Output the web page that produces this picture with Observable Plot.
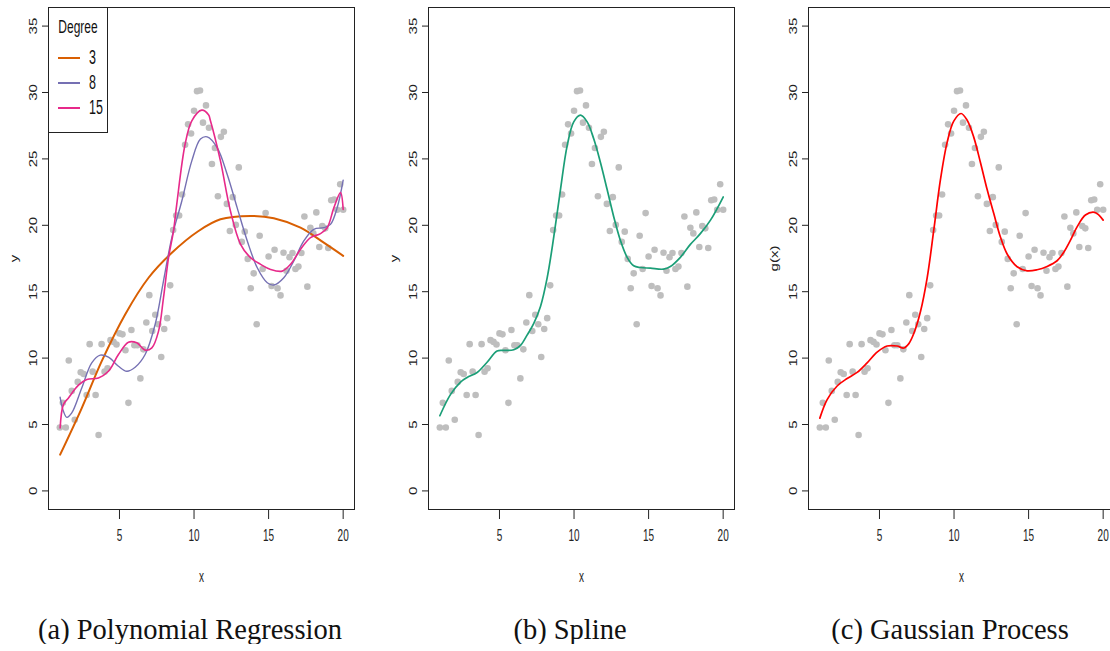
<!DOCTYPE html>
<html>
<head>
<meta charset="utf-8">
<script src="https://cdn.jsdelivr.net/npm/d3@7"></script>
<script src="https://cdn.jsdelivr.net/npm/@observablehq/plot@0.6"></script>
<style>
  html, body { margin: 0; padding: 0; background: white; overflow: hidden; }
  #row { display: flex; width: 1140px; }
  .fig { position: relative; width: 380px; flex: none; }
  .cap { font-family: "Liberation Serif", "Times New Roman", serif; font-size: 28.5px; text-align: center; line-height: 28px; margin-top: 16px; color: #111; }
  .legend { position: absolute; left: 48px; top: 7px; width: 60px; height: 126px; border: 1px solid #222; background: white; box-sizing: border-box; font-family: "Liberation Sans", Arial, sans-serif; color: #111; }
  .legend .title { position: absolute; left: 0; width: 100%; top: 12px; text-align: center; font-size: 12px; transform: scaleY(1.6); }
  .legend .item { position: absolute; left: 0; width: 100%; height: 14px; }
  .legend .sw { position: absolute; left: 9px; width: 22px; top: 6px; height: 2px; }
  .legend .lab { position: absolute; left: 40px; top: 0; font-size: 12.5px; line-height: 14px; transform: scaleY(1.55); transform-origin: 0 50%; }
</style>
</head>
<body>
<div id="row"></div>
<script>
// ---- data ----
const xs = [1,1.2,1.4,1.6,1.8,2,2.2,2.4,2.6,2.8,3,3.2,3.4,3.6,3.8,4,4.2,4.4,4.6,4.8,
  5,5.2,5.4,5.6,5.8,6,6.2,6.4,6.6,6.8,7,7.2,7.4,7.6,7.8,8,8.2,8.4,8.6,8.8,
  9,9.2,9.4,9.6,9.8,10,10.2,10.4,10.6,10.8,11,11.2,11.4,11.6,11.8,12,12.2,12.4,12.6,12.8,
  13,13.2,13.4,13.6,13.8,14,14.2,14.4,14.6,14.8,15,15.2,15.4,15.6,15.8,16,16.2,16.4,16.6,16.8,
  17,17.2,17.4,17.6,17.8,18,18.2,18.4,18.6,18.8,19,19.2,19.4,19.6,19.8,20];
const ys = [4.77,6.63,4.77,9.82,7.53,5.36,8.21,8.93,8.80,7.22,
  11.05,8.98,7.22,4.21,11.05,8.98,9.23,11.35,11.22,11.02,
  11.86,11.79,10.59,6.63,12.12,10.97,10.97,8.47,10.66,12.68,
  14.74,12.04,13.27,12.55,10.08,12.19,13.01,15.48,19.64,20.74,
  20.74,22.32,26.07,27.6,26.91,28.62,30.1,30.15,27.73,29.03,
  27.35,24.62,25.82,22.19,26.66,27.04,21.61,19.57,22.12,20.03,
  24.36,18.75,19.52,17.47,15.26,16.38,12.55,19.21,16.71,20.92,
  17.65,15.43,18.16,15.26,14.72,17.93,16.58,17.6,17.91,16.71,
  16.89,17.91,20.66,15.38,19.82,19.39,20.97,18.37,19.95,19.77,
  18.29,21.89,21.94,21.17,23.09,21.17];

// degree 3 polynomial curve
const deg3X = [1.02,2.47,3.81,5.38,6.95,8.51,10.3,11.77,13.79,15.35,17.14,18.7,20.0];
const deg3Y = [2.73,6.24,9.77,13.29,16.05,17.93,19.57,20.45,20.7,20.53,19.82,18.69,17.7];
// degree 8
const deg8X = [1.02,1.24,1.47,1.8,2.47,3.14,3.71,4.26,4.93,5.49,6.05,6.72,7.39,7.95,8.51,9.18,9.85,10.43,10.88,11.55,12.22,12.89,13.57,14.24,14.91,15.35,16.02,16.69,17.36,18.03,18.7,19.15,19.6,20.0];
const deg8Y = [7.05,6.0,5.54,5.87,7.75,9.64,10.22,10.07,9.39,9.01,9.31,10.27,12.53,15.8,19.07,21.83,24.85,26.49,26.66,25.85,23.85,21.33,18.82,16.8,15.67,15.5,16.05,17.31,18.82,19.7,19.82,20.07,21.33,23.4];
// degree 15
const deg15X = [1.02,1.24,1.58,2.25,2.81,3.59,4.26,4.93,5.6,6.16,6.72,7.17,7.62,7.95,8.29,8.62,8.84,9.4,9.85,10.52,10.97,11.1,11.77,12.44,13.12,13.79,14.46,15.13,15.91,16.47,17.14,17.81,18.48,18.93,19.38,19.82,20.0];
const deg15Y = [4.74,6.5,7.0,7.96,8.38,8.51,9.01,10.27,11.2,11.15,10.6,10.77,12.03,14.54,17.56,19.57,21.58,26.1,27.87,28.67,28.32,27.87,24.85,21.08,18.57,17.56,17.06,16.68,16.55,17.06,18.19,19.07,19.37,19.82,21.33,22.46,21.2];
// spline
const splX = [1.0,1.72,2.39,2.83,3.5,4.17,4.84,5.29,5.96,6.41,6.85,7.3,7.75,8.2,8.64,9.09,9.54,9.98,10.43,10.88,11.32,11.77,12.22,12.66,13.11,13.56,14.0,14.45,15.12,16.0,16.46,17.13,17.8,18.47,19.15,20.0];
const splY = [5.66,7.27,8.2,8.54,8.92,9.69,10.53,10.58,10.63,10.96,11.73,12.62,13.89,16.06,19.12,22.69,26.0,27.79,28.3,27.79,26.51,24.73,22.69,20.65,18.86,17.59,16.95,16.82,16.77,16.7,16.9,17.59,18.56,19.37,20.39,22.13];
// gaussian process
const gpX = [1.0,1.49,2.16,2.83,3.5,4.17,4.84,5.51,6.18,6.63,6.97,7.3,7.75,8.2,8.64,9.09,9.54,9.98,10.47,10.88,11.32,11.77,12.22,12.66,13.11,13.56,14.23,14.9,15.57,16.24,16.91,17.36,17.8,18.25,18.81,19.41,19.7,20.0];
const gpY = [5.48,6.88,7.9,8.46,8.92,9.64,10.45,10.91,10.91,10.76,11.09,11.85,13.51,16.06,19.63,23.45,26.26,27.84,28.42,27.91,26.64,24.73,22.69,20.9,19.12,17.84,16.88,16.57,16.65,16.9,17.33,17.97,18.86,19.88,20.78,20.98,20.78,20.39];

const xTicks = [5, 10, 15, 20];
const yTicks = [0, 5, 10, 15, 20, 25, 30, 35];
const degrees = ["3", "8", "15"];
const captions = ["(a) Polynomial Regression", "(b) Spline", "(c) Gaussian Process"];
const yLabels = ["y", "y", "g(x)"];

const pts = xs.map((x, i) => ({x, y: ys[i]}));
const zip = (a, b) => a.map((x, i) => ({x, y: b[i]}));

function stretch(svg) {
  d3.select(svg).selectAll('g[aria-label$="label"] text').each(function() {
    const t = this.getAttribute("transform") || "";
    if (t.includes("rotate")) this.setAttribute("transform", t + " scale(1.5,1)");
    else this.setAttribute("transform", t + " scale(1,1.6)");
  });
}

function panel(curves, ylabel) {
  const svg = Plot.plot({
    width: 380, height: 600,
    marginLeft: 48, marginRight: 26, marginTop: 7, marginBottom: 91,
    x: {domain: [0.24, 20.76]},
    y: {domain: [-1.4, 36.4]},
    style: {fontFamily: "'Liberation Sans', Arial, sans-serif", fontSize: "10px", color: "#222", background: "white", overflow: "visible"},
    marks: [
      Plot.axisX({ticks: xTicks, tickSize: 10, tickPadding: 10, label: "x", labelAnchor: "center", labelArrow: "none", labelOffset: 72}),
      Plot.axisY({ticks: yTicks, tickSize: 6, tickPadding: 6, tickRotate: -90, label: ylabel, labelAnchor: "center", labelArrow: "none", labelOffset: 38}),
      Plot.dot(pts, {x: "x", y: "y", r: 3.3, fill: "#BEBEBE", stroke: "none"}),
      ...curves.map(c => Plot.line(c.data, {x: "x", y: "y", stroke: c.color, strokeWidth: c.w, curve: "catmull-rom"})),
      Plot.frame({stroke: "#222", strokeWidth: 1})
    ]
  });
  stretch(svg);
  return svg;
}

const row = document.getElementById("row");
const colorsA = ["#D95F02", "#7570B3", "#E7298A"];
const panels = [
  [{data: zip(deg3X, deg3Y), color: colorsA[0], w: 2},
   {data: zip(deg8X, deg8Y), color: colorsA[1], w: 1.4},
   {data: zip(deg15X, deg15Y), color: colorsA[2], w: 1.6}],
  [{data: zip(splX, splY), color: "#1B9E77", w: 1.7}],
  [{data: zip(gpX, gpY), color: "#FF0000", w: 1.7}]
];
panels.forEach((curves, i) => {
  const fig = document.createElement("div");
  fig.className = "fig";
  fig.appendChild(panel(curves, yLabels[i]));
  const cap = document.createElement("div");
  cap.className = "cap";
  cap.textContent = captions[i];
  fig.appendChild(cap);
  if (i === 0) {
    const lg = document.createElement("div");
    lg.className = "legend";
    const title = document.createElement("div");
    title.className = "title";
    title.textContent = "Degree";
    lg.appendChild(title);
    degrees.forEach((d, j) => {
      const it = document.createElement("div");
      it.className = "item";
      it.style.top = (43 + j * 25) + "px";
      const sw = document.createElement("div");
      sw.className = "sw";
      sw.style.background = colorsA[j];
      const lab = document.createElement("div");
      lab.className = "lab";
      lab.textContent = d;
      it.appendChild(sw); it.appendChild(lab);
      lg.appendChild(it);
    });
    fig.appendChild(lg);
  }
  row.appendChild(fig);
});
</script>
</body>
</html>
